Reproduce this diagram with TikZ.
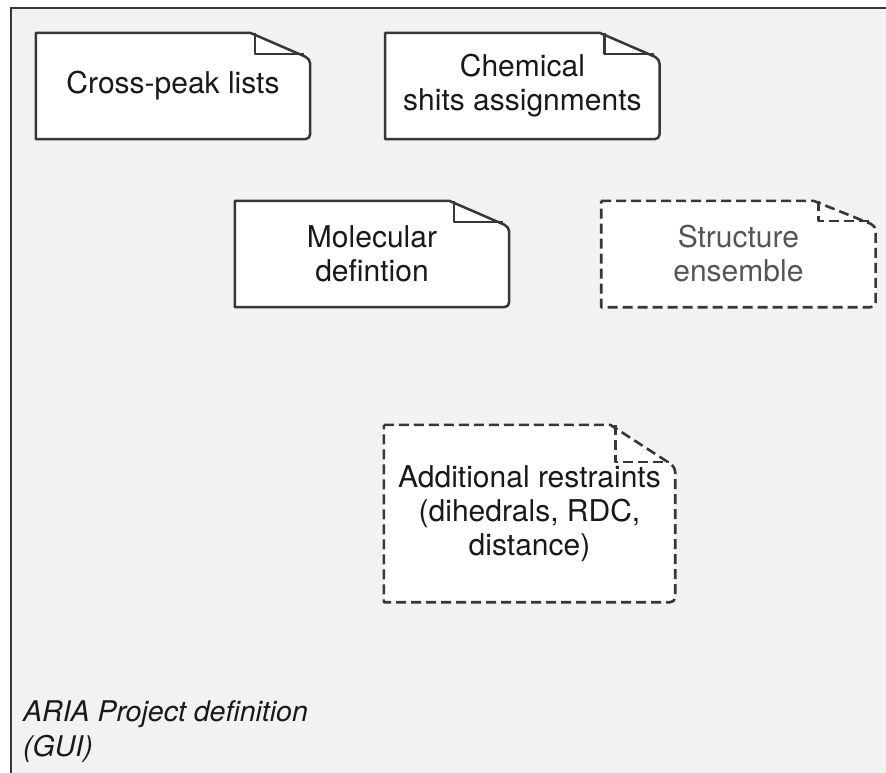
\documentclass[tikz,border=0pt]{standalone}
\usepackage{fontspec}
\setmainfont{TeX Gyre Heros}
\usetikzlibrary{positioning,backgrounds}
\definecolor{panelgray}{RGB}{242,242,242}
\definecolor{edgegray}{RGB}{55,55,55}
\definecolor{textgray}{RGB}{85,85,85}
% document outline with folded corner: style, node, fold width, fold height
\newcommand{\docoutline}[4]{%
  \draw[#1] (#2.north west) -- ([xshift=-#3pt]#2.north east)
    [rounded corners=5pt] -- ([yshift=-#4pt]#2.north east) -- (#2.south east)
    [sharp corners] -- (#2.south west) -- cycle;
  \draw[#1, fill=none] ([xshift=-#3pt+5pt]#2.north east) -- ([xshift=-#3pt+5pt, yshift=-#4pt+5pt]#2.north east)
    -- ([xshift=-6pt, yshift=-#4pt+5pt]#2.north east);
}
\tikzset{
  doc/.style={minimum width=274pt, minimum height=106pt, inner sep=0pt, align=center,
    font=\fontsize{30}{34}\selectfont, text=black!90},
  docline/.style={draw=edgegray, line width=2.5pt, fill=white, line join=round},
  plannedline/.style={docline, line width=2.6pt, dash pattern=on 10pt off 5pt},
}

\begin{document}
\begin{tikzpicture}[x=1pt, y=-1pt]
  \path[use as bounding box] (0,0) rectangle (886,773);
  \node[doc] (cross) at (173,86) {Cross-peak lists};
  \node[doc, right=75pt of cross] (chem) {Chemical\\shits assignments};
  \node[doc] (mol) at (372,254) {Molecular\\defintion};
  \node[doc, right=92pt of mol, text=textgray] (struct) {Structure\\ensemble};
  \node[doc, minimum width=291pt, minimum height=177pt] (addl) at (529.5,513.5) {Additional restraints\\(dihedrals, RDC,\\distance)};
  \node[font=\fontsize{28.5}{35}\selectfont\itshape, align=left, anchor=south west, inner sep=0pt, text=black!90] (guilabel) at (23,763) {ARIA Project definition\\(GUI)};
  \begin{scope}[on background layer]
    \fill[panelgray] (11,8) rectangle (900,790);
    \draw[edgegray, line width=2.3pt] (900,8) -- (11,8) -- (11,790);
    \foreach \n/\w/\h in {cross/60/26, chem/60/26, mol/60/26}
      \docoutline{docline}{\n}{\w}{\h};
    \foreach \n/\w/\h in {struct/62/25, addl/65/42}
      \docoutline{plannedline}{\n}{\w}{\h};
  \end{scope}
\end{tikzpicture}
\end{document}
